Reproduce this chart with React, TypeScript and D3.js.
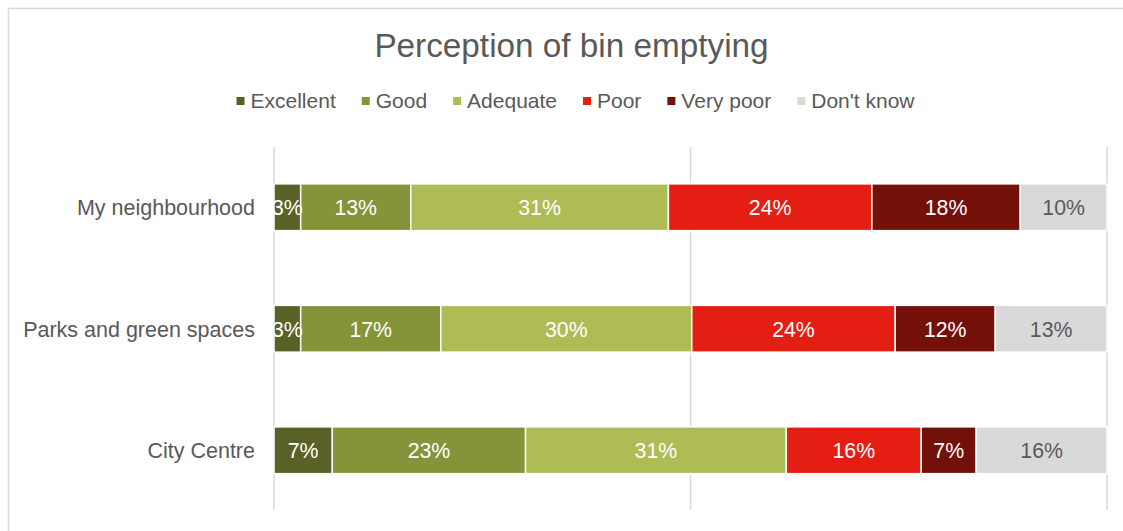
import React from "react";
import * as d3 from "d3";

const categories = ["My neighbourhood", "Parks and green spaces", "City Centre"];
const seriesNames = ["Excellent", "Good", "Adequate", "Poor", "Very poor", "Don't know"];
const excellent = [3.2, 3.2, 7.0];
const good = [13.2, 16.8, 23.2];
const adequate = [30.9, 30.1, 31.3];
const poor = [24.4, 24.4, 16.2];
const veryPoor = [17.8, 12.0, 6.6];
const dontKnow = [10.4, 13.4, 15.7];
const gridTicks = [0, 0.5, 1];
const colors = ["#5a6126", "#859439", "#afbc55", "#e41e13", "#731009", "#d9d9d9"];
const labelColors = ["#ffffff", "#ffffff", "#ffffff", "#ffffff", "#ffffff", "#595959"];

const W = 1123;
const H = 531;
const FONT = "'Liberation Sans', Arial, sans-serif";

export default function App() {
  const seriesValues = [excellent, good, adequate, poor, veryPoor, dontKnow];
  const rows = categories.map((c, i) => {
    const r: Record<string, any> = { category: c };
    seriesNames.forEach((s, j) => (r[s] = seriesValues[j][i]));
    return r;
  });
  const stack = d3.stack<any>().keys(seriesNames).offset(d3.stackOffsetExpand);
  const stacked = stack(rows);

  const x = d3.scaleLinear().domain([0, 1]).range([274, 1107]);
  const y = d3.scaleBand().domain(categories).range([146.5, 511]).paddingInner(0.615).paddingOuter(0.3075);

  // legend layout
  const legendFont = 21;
  const measure = (t: string) => {
    const canvas = document.createElement("canvas");
    const ctx = canvas.getContext("2d")!;
    ctx.font = `${legendFont}px ${FONT}`;
    return ctx.measureText(t).width;
  };
  const itemWidths = seriesNames.map((s) => 8 + 6 + measure(s));
  const gap = 26;
  const totalW = d3.sum(itemWidths) + gap * (seriesNames.length - 1);
  let lx = 575.5 - totalW / 2;
  const legendItems = seriesNames.map((s, i) => {
    const item = { name: s, x: lx, color: colors[i] };
    lx += itemWidths[i] + gap;
    return item;
  });

  return (
    <svg width={W} height={H} style={{ position: "absolute", left: 0, top: 0, background: "#fff" }} fontFamily={FONT}>
      <rect x={8.5} y={8.5} width={W + 20} height={H + 20} fill="#fff" stroke="#d9d9d9" strokeWidth={1.5} />
      <text x={571.5} y={57} textAnchor="middle" fontSize={33.3} fill="#595959">
        Perception of bin emptying
      </text>
      {legendItems.map((it) => (
        <g key={it.name}>
          <rect x={it.x} y={97} width={8} height={8} fill={it.color} />
          <text x={it.x + 14} y={108} fontSize={legendFont} fill="#595959">
            {it.name}
          </text>
        </g>
      ))}
      {gridTicks.map((t) => (
        <line key={t} x1={x(t)} x2={x(t)} y1={147} y2={510} stroke="#d9d9d9" strokeWidth={1.5} />
      ))}
      {stacked.map((s, si) =>
        s.map((d, i) => (
          <rect
            key={`${si}-${i}`}
            x={x(d[0])}
            y={y(categories[i])!}
            width={x(d[1]) - x(d[0])}
            height={y.bandwidth()}
            fill={colors[si]}
            stroke="#fff"
            strokeWidth={1.5}
          />
        ))
      )}
      {stacked.map((s, si) =>
        s.map((d, i) => (
          <text
            key={`l-${si}-${i}`}
            x={(x(d[0]) + x(d[1])) / 2}
            y={y(categories[i])! + y.bandwidth() / 2 + 7.8}
            textAnchor="middle"
            fontSize={21.3}
            fill={labelColors[si]}
          >
            {`${Math.round(seriesValues[si][i])}%`}
          </text>
        ))
      )}
      {categories.map((c) => (
        <text key={c} x={255} y={y(c)! + y.bandwidth() / 2 + 7.8} textAnchor="end" fontSize={21.5} fill="#595959">
          {c}
        </text>
      ))}
    </svg>
  );
}
